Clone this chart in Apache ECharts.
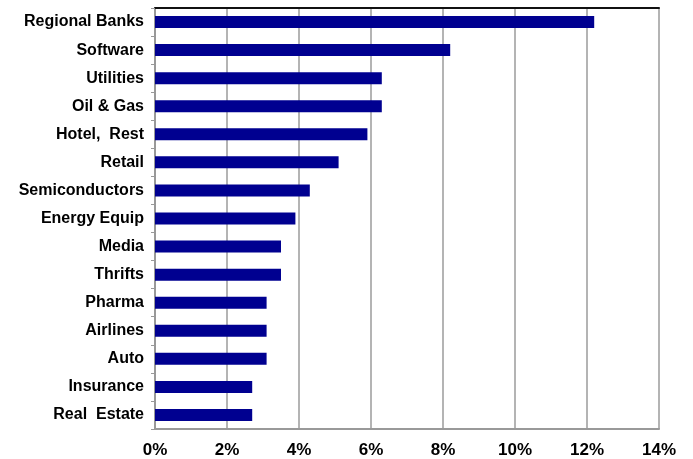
<!DOCTYPE html>
<html>
<head>
<meta charset="utf-8">
<script src="https://cdn.jsdelivr.net/npm/echarts@6/dist/echarts.min.js"></script>
<style>
  html, body { margin: 0; padding: 0; background: #fff; }
  #chart { width: 693px; height: 459px; }
</style>
</head>
<body>
<div id="chart"></div>
<script>
// 行业分布（%），自上而下
const sectors = ['Regional Banks', 'Software', 'Utilities', 'Oil & Gas', 'Hotel,  Rest', 'Retail',
  'Semiconductors', 'Energy Equip', 'Media', 'Thrifts', 'Pharma', 'Airlines', 'Auto',
  'Insurance', 'Real  Estate'];
const weights = [12.2, 8.2, 6.3, 6.3, 5.9, 5.1, 4.3, 3.9, 3.5, 3.5, 3.1, 3.1, 3.1, 2.7, 2.7];
const xTicks = [0, 2, 4, 6, 8, 10, 12, 14];

const labelFont = 'Liberation Sans, Arial, sans-serif';

const chart = echarts.init(document.getElementById('chart'));

const option = {
  animation: false,
  grid: { left: 155, right: 34, top: 8, bottom: 28 },
  xAxis: [
    {
      type: 'value',
      min: xTicks[0],
      max: xTicks[xTicks.length - 1],
      interval: 2,
      axisLine: { show: true, lineStyle: { color: '#999', width: 2 } },
      axisTick: { show: false },
      axisLabel: {
        color: '#000', fontSize: 17, fontWeight: 'bold', fontFamily: labelFont,
        margin: 13, formatter: v => v + '%'
      },
      splitLine: { show: true, lineStyle: { color: '#b4b4b4', width: 2 } }
    },
    {
      // 顶部黑色边框
      type: 'value',
      position: 'top',
      min: xTicks[0],
      max: xTicks[xTicks.length - 1],
      axisLine: { show: true, lineStyle: { color: '#111', width: 2 } },
      axisTick: { show: false },
      axisLabel: { show: false },
      splitLine: { show: false }
    }
  ],
  yAxis: {
    type: 'category',
    data: sectors,
    inverse: true,
    axisLine: { lineStyle: { color: '#999', width: 2 } },
    axisTick: { show: true, length: 4, lineStyle: { color: '#999' } },
    axisLabel: {
      color: '#000', fontSize: 16, fontWeight: 'bold', fontFamily: labelFont, margin: 11
    }
  },
  series: [
    {
      type: 'bar',
      data: weights,
      barWidth: 12,
      itemStyle: { color: '#000090' }
    }
  ]
};

chart.setOption(option);
</script>
</body>
</html>
